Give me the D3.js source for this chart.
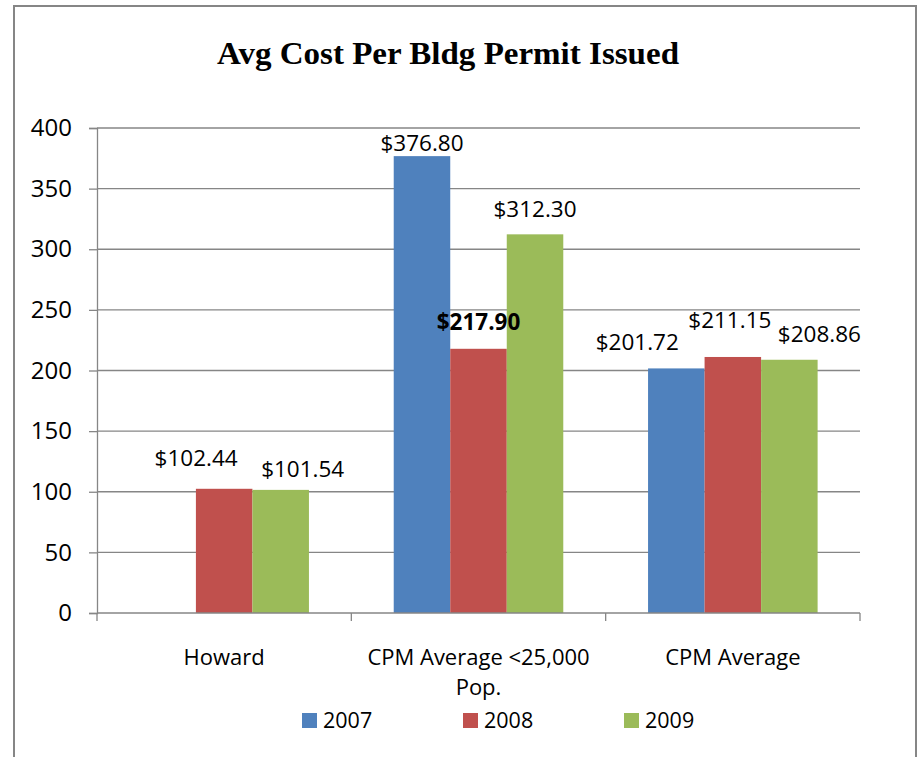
<!DOCTYPE html>
<html>
<head>
<meta charset="utf-8">
<script src="https://cdn.jsdelivr.net/npm/d3@7"></script>
<style>
  body { margin: 0; background: #fff; }
  svg { display: block; }
  text { font-family: "Open Sans", sans-serif; fill: #000; }
</style>
</head>
<body>
<svg width="923" height="757"></svg>
<script>
// chart data
const categories = ["Howard", "CPM Average <25,000 Pop.", "CPM Average"];
const years = ["2007", "2008", "2009"];
const values2007 = [null, 376.80, 201.72];
const values2008 = [102.44, 217.90, 211.15];
const values2009 = [101.54, 312.30, 208.86];
const yTicks = [0, 50, 100, 150, 200, 250, 300, 350, 400];
const colors = ["#4F81BD", "#C0504D", "#9BBB59"];

// label nudges (hand placed in original chart), per year then category
const labelNudge = [
    [[0, 0], [0, 13], [-39, 0]],
    [[-28, -5], [0, -1], [-3, -11]],
    [[22, 5], [0, 1], [30, 0]]
];

const series = [values2007, values2008, values2009];
const width = 923, height = 757;
const plotLeft = 97, plotRight = 860, plotTop = 128, plotBottom = 613;

const svg = d3.select("svg");

// outer border
svg.append("path")
    .attr("d", `M14,${height} V6 H916 V${height}`)
    .attr("fill", "none")
    .attr("stroke", "#868686")
    .attr("stroke-width", 2);

svg.append("text")
    .attr("x", 448)
    .attr("y", 64)
    .attr("text-anchor", "middle")
    .attr("textLength", 462)
    .attr("lengthAdjust", "spacingAndGlyphs")
    .style("font-family", "'Liberation Serif', serif")
    .style("font-weight", "bold")
    .style("font-size", "31px")
    .text("Avg Cost Per Bldg Permit Issued");

const y = d3.scaleLinear().domain([0, 400]).range([plotBottom, plotTop]);
const x0 = d3.scaleBand().domain(categories).range([plotLeft, plotRight]).padding(0);
const x1 = d3.scaleBand().domain(years).range([0, x0.bandwidth()])
    .paddingInner(0).paddingOuter(0.75);

// gridlines
svg.append("g")
    .selectAll("line")
    .data(yTicks.filter(d => d > 0))
    .join("line")
    .attr("x1", plotLeft).attr("x2", plotRight)
    .attr("y1", d => y(d)).attr("y2", d => y(d))
    .attr("stroke", "#868686")
    .attr("stroke-width", 1.3);

// y axis
const yAxis = svg.append("g")
    .attr("transform", `translate(${plotLeft},0)`)
    .call(d3.axisLeft(y).tickValues(yTicks).tickSize(8).tickPadding(17));
yAxis.select(".domain").attr("stroke", "#868686").attr("stroke-width", 1.3);
yAxis.selectAll(".tick line").attr("stroke", "#868686").attr("stroke-width", 1.3);
yAxis.selectAll(".tick text")
    .style("font-family", "'Open Sans', sans-serif")
    .style("font-size", "24px")
    .attr("fill", "#000");

// bars
const barData = [];
series.forEach((vals, si) => {
    vals.forEach((v, ci) => {
        if (v != null) barData.push({ year: years[si], si, ci, cat: categories[ci], value: v });
    });
});

svg.append("g")
    .selectAll("rect")
    .data(barData)
    .join("rect")
    .attr("x", d => x0(d.cat) + x1(d.year))
    .attr("y", d => y(d.value))
    .attr("width", x1.bandwidth())
    .attr("height", d => y(0) - y(d.value))
    .attr("fill", d => colors[d.si]);

// x axis
const xAxis = svg.append("g");
xAxis.append("line")
    .attr("x1", plotLeft).attr("x2", plotRight)
    .attr("y1", plotBottom).attr("y2", plotBottom)
    .attr("stroke", "#868686").attr("stroke-width", 1.5);
const bounds = categories.map(c => x0(c)).concat([plotRight]);
xAxis.selectAll("line.tk")
    .data(bounds)
    .join("line")
    .attr("class", "tk")
    .attr("x1", d => d).attr("x2", d => d)
    .attr("y1", plotBottom).attr("y2", plotBottom + 8)
    .attr("stroke", "#868686").attr("stroke-width", 1.3);

// category labels, second line as its own text
const catLines = [["Howard"], ["CPM Average <25,000", "Pop."], ["CPM Average"]];
categories.forEach((c, i) => {
    catLines[i].forEach((ln, j) => {
        svg.append("text")
            .attr("text-anchor", "middle")
            .attr("x", x0(c) + x0.bandwidth() / 2)
            .attr("y", 665 + j * 30)
            .style("font-size", "22px")
            .text(ln);
    });
});

// data labels
svg.append("g")
    .selectAll("text")
    .data(barData)
    .join("text")
    .attr("text-anchor", "middle")
    .attr("x", d => x0(d.cat) + x1(d.year) + x1.bandwidth() / 2 + labelNudge[d.si][d.ci][0])
    .attr("y", d => y(d.value) - 18 + labelNudge[d.si][d.ci][1])
    .style("font-size", "22.5px")
    .style("font-weight", d => (d.si === 1 && d.ci === 1) ? "bold" : "normal")
    .text(d => "$" + d3.format(".2f")(d.value));

// legend
const legend = svg.append("g")
    .selectAll("g")
    .data(years)
    .join("g")
    .attr("transform", (d, i) => `translate(${302 + i * 161},713)`);
legend.append("rect")
    .attr("width", 15).attr("height", 15)
    .attr("fill", (d, i) => colors[i]);
legend.append("text")
    .attr("x", 21).attr("y", 15)
    .style("font-size", "21.5px")
    .text(d => d);
</script>
</body>
</html>
